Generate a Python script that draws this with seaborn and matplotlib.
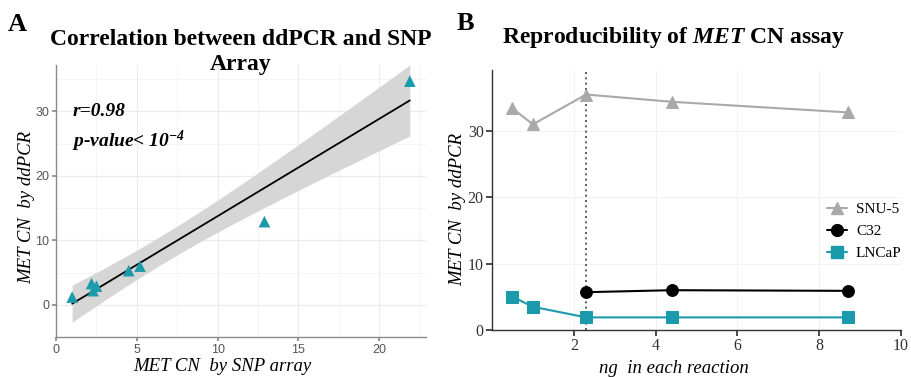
import numpy as np
import pandas as pd
import seaborn as sns
import matplotlib.pyplot as plt
from matplotlib.lines import Line2D

# ===== data =====
snp_cn = [1.0, 2.2, 2.3, 2.5, 4.5, 5.2, 12.9, 21.9]
ddpcr_cn = [1.2, 3.3, 2.2, 2.9, 5.3, 6.0, 12.9, 34.7]

ng_amount = [0.5, 1.0, 2.3, 4.4, 8.7]
snu5_cn = [33.4, 31.0, 35.5, 34.4, 32.8]
c32_ng = [2.3, 4.4, 8.7]
c32_cn = [5.7, 6.0, 5.9]
lncap_cn = [5.0, 3.5, 1.9, 1.9, 1.9]

TEAL = "#1b9aab"
GREY = "#a9a9a9"

sns.set_theme(style="white")
plt.rcParams["font.family"] = ["Liberation Serif", "DejaVu Serif"]
plt.rcParams["text.color"] = "black"
plt.rcParams["axes.labelcolor"] = "black"
plt.rcParams["mathtext.fontset"] = "custom"
plt.rcParams["mathtext.rm"] = "Liberation Serif:bold:italic"
plt.rcParams["mathtext.it"] = "Liberation Serif:bold:italic"

fig = plt.figure(figsize=(9.12, 3.77), dpi=100)
axA = fig.add_axes([0.0614, 0.106, 0.4057, 0.7215])
axB = fig.add_axes([0.5395, 0.1247, 0.4485, 0.6897])

# ===== panel A: scatter + linear fit with 95% band =====
x = np.array(snp_cn)
y = np.array(ddpcr_cn)
slope, icpt = np.polyfit(x, y, 1)
n = len(x)
resid = y - (slope * x + icpt)
s = np.sqrt((resid ** 2).sum() / (n - 2))
sxx = ((x - x.mean()) ** 2).sum()
xs = np.linspace(x.min(), x.max(), 100)
fit = slope * xs + icpt
half = 2.447 * s * np.sqrt(1 / n + (xs - x.mean()) ** 2 / sxx)  # t(0.975, 6)

axA.set_xlim(0, 22.9)
axA.set_ylim(-4.8, 37.2)
axA.set_xticks([0, 5, 10, 15, 20])
axA.set_yticks([0, 10, 20, 30])
axA.set_xticks(np.arange(2.5, 23, 5), minor=True)
axA.set_yticks(np.arange(-5, 38, 10), minor=True)
axA.grid(True, which="major", color="#ebebeb", lw=0.8)
axA.grid(True, which="minor", color="#f3f3f3", lw=0.6)
axA.set_axisbelow(True)

axA.fill_between(xs, fit - half, fit + half, color="#d6d6d6", lw=0, zorder=1)
axA.plot(xs, fit, color="black", lw=1.3, zorder=2)
sns.scatterplot(x=snp_cn, y=ddpcr_cn, marker="^", s=70, color=TEAL,
                edgecolor="none", ax=axA, zorder=3)

for sp in ["top", "right"]:
    axA.spines[sp].set_visible(False)
for sp in ["left", "bottom"]:
    axA.spines[sp].set_color("#8a8a8a")
    axA.spines[sp].set_linewidth(1.0)
axA.tick_params(axis="both", which="major", length=3, color="#8a8a8a",
                labelsize=9, labelcolor="#555555", direction="out",
                bottom=True, left=True, pad=2)
axA.tick_params(which="minor", length=0)
for lab in axA.get_xticklabels() + axA.get_yticklabels():
    lab.set_family("Liberation Sans")

axA.set_xlabel("MET CN  by SNP array", fontsize=13.5, fontstyle="italic", va="top")
axA.set_ylabel("MET CN  by ddPCR", fontsize=13.5, fontstyle="italic")
axA.xaxis.set_label_coords(0.449, -0.077)
axA.yaxis.set_label_coords(-0.057, 0.478)
axA.text(1.0, 30.0, "r=0.98", fontsize=14, fontweight="bold", fontstyle="italic",
         va="center")
axA.text(1.0, 25.4, "p-value< 10$^{-4}$", fontsize=14, fontweight="bold",
         fontstyle="italic", va="center")

fig.text(0.264, 0.862, "Correlation between ddPCR and SNP\nArray", ha="center",
         va="center", fontsize=17, fontweight="bold", linespacing=1.3)
fig.text(0.008, 0.934, "A", fontsize=19, fontweight="bold", va="center")

# ===== panel B: dilution series =====
axB.set_xlim(0, 10)
axB.set_ylim(0, 39.2)
axB.set_xticks([2, 4, 6, 8, 10])
axB.set_yticks([0, 10, 20, 30])
axB.grid(True, color="#f2f2f2", lw=0.7)
axB.set_axisbelow(True)

axB.axvline(2.3, color="#444444", lw=1.2, ls=(0, (1.2, 2)), zorder=1)

sns.lineplot(x=ng_amount, y=snu5_cn, color=GREY, marker="^", markersize=9,
             markeredgecolor=GREY, lw=1.5, ax=axB, zorder=3)
sns.lineplot(x=c32_ng, y=c32_cn, color="black", marker="o", markersize=8.5,
             markeredgecolor="black", lw=1.5, ax=axB, zorder=3)
sns.lineplot(x=ng_amount, y=lncap_cn, color=TEAL, marker="s", markersize=8,
             markeredgecolor=TEAL, lw=1.5, ax=axB, zorder=3)

for sp in ["top", "right"]:
    axB.spines[sp].set_visible(False)
for sp in ["left", "bottom"]:
    axB.spines[sp].set_color("#333333")
    axB.spines[sp].set_linewidth(1.0)
axB.tick_params(axis="both", length=4, color="#333333", labelsize=11.5,
                labelcolor="#333333", direction="out", bottom=True, left=True, pad=2)

axB.set_xlabel("ng  in each reaction", fontsize=13.5, fontstyle="italic", va="top")
axB.set_ylabel("MET CN  by ddPCR", fontsize=13.5, fontstyle="italic")
axB.xaxis.set_label_coords(0.445, -0.115)
axB.yaxis.set_label_coords(-0.064, 0.465)

handles = [
    Line2D([], [], color=GREY, marker="^", markersize=9, lw=1.5),
    Line2D([], [], color="black", marker="o", markersize=8.5, lw=1.5),
    Line2D([], [], color=TEAL, marker="s", markersize=8, lw=1.5),
]
axB.legend(handles, ["SNU-5", "C32", "LNCaP"], loc="center left",
           bbox_to_anchor=(0.785, 0.38), frameon=False, fontsize=11,
           handlelength=1.3, handletextpad=0.6, labelspacing=0.55)

fig.text(0.739, 0.9, "Reproducibility of $MET$ CN assay", ha="center",
         va="center", fontsize=17, fontweight="bold")
fig.text(0.501, 0.937, "B", fontsize=19, fontweight="bold", va="center")

fig.savefig("out.png", dpi=100)
